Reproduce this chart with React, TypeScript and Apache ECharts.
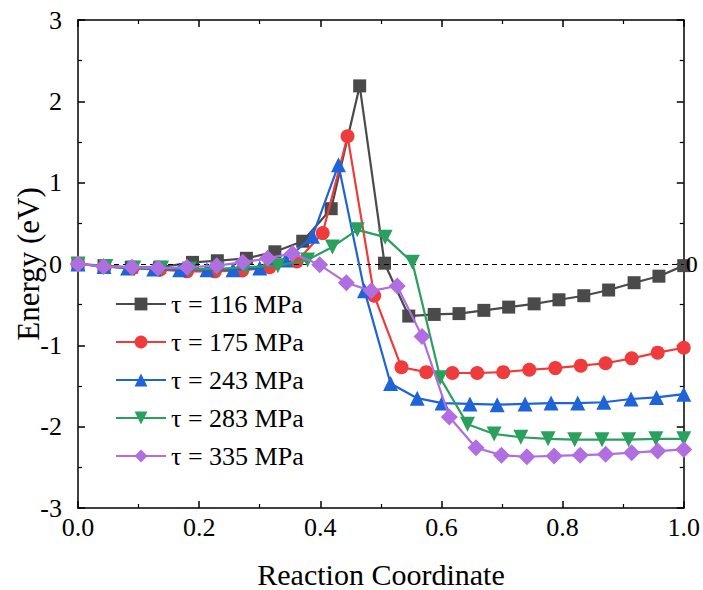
import React, { useEffect, useRef } from "react";
import * as echarts from "echarts";

const seriesNames = ["τ = 116 MPa", "τ = 175 MPa", "τ = 243 MPa", "τ = 283 MPa", "τ = 335 MPa"];
const colors = ["#4a4a4a", "#ef3b3b", "#1f63d9", "#2aa05e", "#b06ee0"];

const x116 = [0, 0.043, 0.088, 0.135, 0.189, 0.23, 0.278, 0.325, 0.371, 0.418, 0.465, 0.506, 0.546, 0.588, 0.629, 0.67, 0.711, 0.753, 0.794, 0.835, 0.876, 0.918, 0.959, 1.0];
const y116 = [0, -0.02, -0.04, -0.04, 0.02, 0.04, 0.07, 0.15, 0.28, 0.68, 2.19, 0.01, -0.64, -0.62, -0.61, -0.57, -0.53, -0.49, -0.44, -0.39, -0.32, -0.23, -0.15, -0.02];

const x175 = [0, 0.044, 0.09, 0.135, 0.18, 0.226, 0.271, 0.316, 0.361, 0.404, 0.445, 0.489, 0.534, 0.575, 0.618, 0.659, 0.702, 0.745, 0.788, 0.83, 0.871, 0.914, 0.957, 1.0];
const y175 = [0, -0.03, -0.05, -0.07, -0.09, -0.09, -0.08, -0.04, 0.03, 0.38, 1.57, -0.39, -1.27, -1.33, -1.34, -1.34, -1.33, -1.3, -1.28, -1.25, -1.22, -1.16, -1.09, -1.03];

const x243 = [0, 0.043, 0.082, 0.125, 0.168, 0.213, 0.256, 0.3, 0.343, 0.387, 0.43, 0.473, 0.516, 0.56, 0.601, 0.647, 0.692, 0.738, 0.781, 0.825, 0.868, 0.913, 0.955, 1.0];
const y243 = [0, -0.03, -0.05, -0.06, -0.07, -0.07, -0.07, -0.05, 0.05, 0.34, 1.22, -0.33, -1.47, -1.65, -1.71, -1.72, -1.73, -1.72, -1.71, -1.71, -1.7, -1.66, -1.64, -1.6];

const x283 = [0, 0.046, 0.092, 0.138, 0.184, 0.23, 0.276, 0.33, 0.379, 0.42, 0.461, 0.507, 0.552, 0.598, 0.643, 0.687, 0.731, 0.776, 0.82, 0.865, 0.909, 0.954, 1.0];
const y283 = [0, -0.03, -0.05, -0.05, -0.06, -0.06, -0.04, -0.02, 0.05, 0.21, 0.42, 0.33, 0.02, -1.4, -1.97, -2.09, -2.13, -2.15, -2.16, -2.16, -2.16, -2.15, -2.15];

const x335 = [0, 0.042, 0.089, 0.132, 0.18, 0.229, 0.272, 0.313, 0.354, 0.399, 0.443, 0.484, 0.527, 0.568, 0.613, 0.657, 0.699, 0.741, 0.786, 0.829, 0.871, 0.914, 0.957, 1.0];
const y335 = [0, -0.03, -0.04, -0.05, -0.04, -0.02, 0.02, 0.07, 0.13, -0.01, -0.23, -0.33, -0.27, -0.89, -1.88, -2.26, -2.35, -2.37, -2.36, -2.35, -2.34, -2.32, -2.3, -2.28];

const xs = [x116, x175, x243, x283, x335];
const ys = [y116, y175, y243, y283, y335];
const symbols = ["rect", "circle", "triangle", "triangle", "diamond"];
const symbolSizes = [13, 14, 15, 15, 17];
const symbolRotates = [0, 0, 0, 180, 0];

const FONT = "Liberation Serif";

export default function App() {
  const ref = useRef<HTMLDivElement>(null);
  useEffect(() => {
    if (!ref.current) return;
    const chart = echarts.init(ref.current, null, { renderer: "svg" });
    const axisCommon = {
      type: "value" as const,
      axisLine: { show: true, onZero: false, lineStyle: { color: "#000", width: 1.5 } },
      axisTick: { show: true, inside: true, length: 7, lineStyle: { color: "#000", width: 1.5 } },
      minorTick: { show: true, splitNumber: 2, length: 4, lineStyle: { color: "#000", width: 1.2 } },
      splitLine: { show: false },
    };
    const series: any[] = seriesNames.map((name, i) => ({
      name,
      type: "line",
      data: xs[i].map((x, j) => [x, ys[i][j]]),
      symbol: symbols[i],
      symbolSize: symbolSizes[i],
      symbolRotate: symbolRotates[i],
      showAllSymbol: true,
      lineStyle: { color: colors[i], width: 2.2 },
      itemStyle: { color: colors[i] },
      z: 3 + i,
    }));
    series[0].markLine = {
      silent: true,
      symbol: "none",
      lineStyle: { type: [5, 4], color: "#000", width: 1.2 },
      label: { show: true, position: "end", formatter: "0", fontFamily: FONT, fontSize: 24, color: "#000", distance: 2 },
      data: [{ yAxis: 0 }],
    };
    chart.setOption({
      animation: false,
      backgroundColor: "#fff",
      grid: { left: 78, right: 18, top: 20, bottom: 82 },
      legend: {
        orient: "vertical",
        left: 110,
        top: 286,
        itemWidth: 50,
        itemHeight: 16,
        itemGap: 12,
        textStyle: { fontFamily: FONT, fontSize: 26, color: "#000" },
        data: seriesNames,
      },
      graphic: [
        {
          type: "text",
          x: 381,
          y: 574,
          style: { text: "Reaction Coordinate", font: "30px Liberation Serif", fill: "#000", align: "center", verticalAlign: "middle" },
        },
        {
          type: "text",
          x: 28,
          y: 264,
          rotation: Math.PI / 2,
          style: { text: "Energy (eV)", font: "31px Liberation Serif", fill: "#000", align: "center", verticalAlign: "middle" },
        },
      ],
      xAxis: [
        {
          ...axisCommon,
          min: 0,
          max: 1,
          interval: 0.2,
          position: "bottom",
          axisLabel: { fontFamily: FONT, fontSize: 26, color: "#000", margin: 6, formatter: (v: number) => v.toFixed(1) },
        },
        {
          ...axisCommon,
          min: 0,
          max: 1,
          interval: 0.2,
          position: "top",
          axisLabel: { show: false },
        },
      ],
      yAxis: [
        {
          ...axisCommon,
          min: -3,
          max: 3,
          interval: 1,
          position: "left",
          axisLabel: { fontFamily: FONT, fontSize: 26, color: "#000", margin: 16 },
        },
        {
          ...axisCommon,
          min: -3,
          max: 3,
          interval: 1,
          position: "right",
          axisLabel: { show: false },
        },
      ],
      series,
    });
    return () => chart.dispose();
  }, []);
  return <div ref={ref} style={{ width: 703, height: 590, position: "absolute", left: 0, top: 0, overflow: "hidden" }} />;
}
